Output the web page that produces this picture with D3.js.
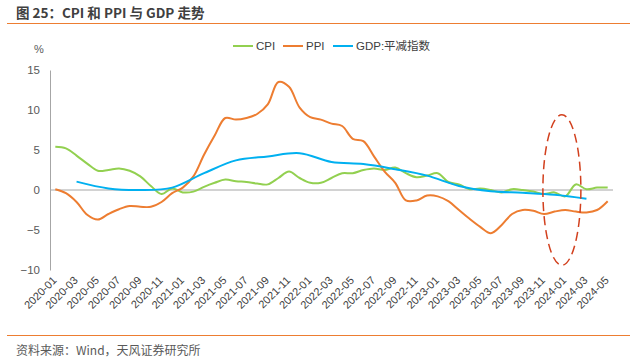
<!DOCTYPE html>
<html>
<head>
<meta charset="utf-8">
<script src="https://cdn.jsdelivr.net/npm/d3@7"></script>
<style>
  body { margin: 0; background: #fff; }
  text { font-family: "Liberation Sans", Arial, "Noto Sans CJK SC", sans-serif; }
</style>
</head>
<body>
<script>
// months 2020-01 .. 2024-05
var months = [];
for (var yr = 2020; yr <= 2024; yr++) {
  for (var mo = 1; mo <= 12; mo++) {
    if (yr === 2024 && mo > 5) break;
    months.push(yr + "-" + (mo < 10 ? "0" + mo : mo));
  }
}

// CPI 同比 (%)
var cpi = [5.4, 5.2, 4.3, 3.3, 2.4, 2.5, 2.7, 2.4, 1.7, 0.5, -0.5, 0.2,
           -0.3, -0.2, 0.4, 0.9, 1.3, 1.1, 1.0, 0.8, 0.7, 1.5, 2.3, 1.5,
           0.9, 0.9, 1.5, 2.1, 2.1, 2.5, 2.7, 2.5, 2.8, 2.1, 1.6, 1.8,
           2.1, 1.0, 0.7, 0.1, 0.2, 0.0, -0.3, 0.1, 0.0, -0.2, -0.5, -0.3,
           -0.8, 0.7, 0.1, 0.3, 0.3];

// PPI 同比 (%)
var ppi = [0.1, -0.4, -1.5, -3.1, -3.7, -3.0, -2.4, -2.0, -2.1, -2.1, -1.5, -0.4,
           0.3, 1.7, 4.4, 6.8, 9.0, 8.8, 9.0, 9.5, 10.7, 13.5, 12.9, 10.3,
           9.1, 8.8, 8.3, 8.0, 6.4, 6.1, 4.2, 2.3, 0.9, -1.3, -1.3, -0.7,
           -0.8, -1.4, -2.5, -3.6, -4.6, -5.4, -4.4, -3.0, -2.5, -2.6, -3.0, -2.7,
           -2.5, -2.7, -2.8, -2.5, -1.4];

// GDP 平减指数 (季度)
var gdpMonths = ["2020-03", "2020-06", "2020-09", "2020-12", "2021-03", "2021-06",
                 "2021-09", "2021-12", "2022-03", "2022-06", "2022-09", "2022-12",
                 "2023-03", "2023-06", "2023-09", "2023-12", "2024-03"];
var gdp = [1.05, 0.2, 0.0, 0.3, 2.1, 3.7, 4.2, 4.6, 3.5, 3.25, 2.6, 1.8,
           0.5, -0.15, -0.35, -0.6, -1.1];

var yTicks = [15, 10, 5, 0, -5, -10];
var xTicks = months.filter(function(d, i) { return i % 2 === 0; });

var W = 637, H = 359;
var svg = d3.select("body").append("svg")
            .attr("width", W)
            .attr("height", H);

var orange = "#ED7D31", green = "#92D050", blue = "#00B0F0";

// titre
svg.append("text")
   .attr("x", 16).attr("y", 18)
   .attr("font-size", 13.5).attr("font-weight", "bold")
   .attr("fill", "#404040")
   .style("font-family", '"Noto Sans CJK SC", sans-serif')
   .text("图 25：CPI 和 PPI 与 GDP 走势");
svg.append("line")
   .attr("x1", 7).attr("x2", 630).attr("y1", 23.5).attr("y2", 23.5)
   .attr("stroke", orange).attr("stroke-width", 1.2);

// source
svg.append("line")
   .attr("x1", 7).attr("x2", 630).attr("y1", 335.5).attr("y2", 335.5)
   .attr("stroke", orange).attr("stroke-width", 1.2);
svg.append("text")
   .attr("x", 16).attr("y", 355)
   .attr("font-size", 12).attr("fill", "#595959")
   .style("font-family", '"Noto Sans CJK SC", sans-serif')
   .text("资料来源：Wind，天风证券研究所");

// échelles
var x = d3.scaleBand().domain(months).range([50, 613]).padding(0);
var cx = function(m) { return x(m) + x.bandwidth() / 2; };
var y = d3.scaleLinear().domain([-10, 15]).range([270, 70]);

// axe Y
var axeY = d3.axisLeft(y).tickValues(yTicks).tickSize(0).tickPadding(10)
             .tickFormat(function(d) { return d < 0 ? "\u2212" + Math.abs(d) : d; });
var gY = svg.append("g").attr("transform", "translate(50,0)").call(axeY);
gY.select(".domain").attr("stroke", "#A6A6A6").attr("stroke-width", 1);
gY.selectAll("text").attr("font-size", 11.5).attr("fill", "#595959")
  .style("font-family", '"Liberation Sans", Arial, sans-serif');

svg.append("text")
   .attr("x", 34).attr("y", 53)
   .attr("font-size", 11).attr("fill", "#595959")
   .text("%");

// ligne zéro
svg.append("line")
   .attr("x1", 50).attr("x2", 613)
   .attr("y1", y(0)).attr("y2", y(0))
   .attr("stroke", "#A6A6A6").attr("stroke-width", 1);

// axe X
var gX = svg.append("g");
gX.selectAll("text").data(xTicks).enter().append("text")
  .attr("transform", function(d) { return "translate(" + (cx(d) + 2) + ",281) rotate(-45)"; })
  .attr("text-anchor", "end")
  .attr("font-size", 11).attr("fill", "#404040")
  .text(function(d) { return d; });

// courbes
var line = d3.line()
             .x(function(d) { return cx(d.m); })
             .y(function(d) { return y(d.v); })
             .curve(d3.curveCatmullRom.alpha(0.5));

var cpiData = months.map(function(m, i) { return {m: m, v: cpi[i]}; });
var ppiData = months.map(function(m, i) { return {m: m, v: ppi[i]}; });
var gdpData = gdpMonths.map(function(m, i) { return {m: m, v: gdp[i]}; });

svg.append("path").attr("d", line(cpiData))
   .attr("fill", "none").attr("stroke", green).attr("stroke-width", 2);
svg.append("path").attr("d", line(ppiData))
   .attr("fill", "none").attr("stroke", orange).attr("stroke-width", 2);
svg.append("path").attr("d", line(gdpData))
   .attr("fill", "none").attr("stroke", blue).attr("stroke-width", 2);

// ellipse annotée
var ex = (cx("2023-12") + cx("2024-01")) / 2 + 2;
svg.append("ellipse")
   .attr("cx", ex).attr("cy", y(0))
   .attr("rx", 19).attr("ry", y(0) - y(9.4))
   .attr("fill", "none").attr("stroke", "#D2401E")
   .attr("stroke-width", 1.5).attr("stroke-dasharray", "9,5");

// légende
var legend = [
  {name: "CPI", color: green, x: 233},
  {name: "PPI", color: orange, x: 283},
  {name: "GDP:平减指数", color: blue, x: 333}
];
var lg = svg.append("g").selectAll("g").data(legend).enter().append("g");
lg.append("line")
  .attr("x1", function(d) { return d.x; })
  .attr("x2", function(d) { return d.x + 20; })
  .attr("y1", 46).attr("y2", 46)
  .attr("stroke", function(d) { return d.color; }).attr("stroke-width", 2);
lg.append("text")
  .attr("x", function(d) { return d.x + 23; })
  .attr("y", 50)
  .attr("font-size", 11.5).attr("fill", "#404040")
  .text(function(d) { return d.name; });
</script>
</body>
</html>
